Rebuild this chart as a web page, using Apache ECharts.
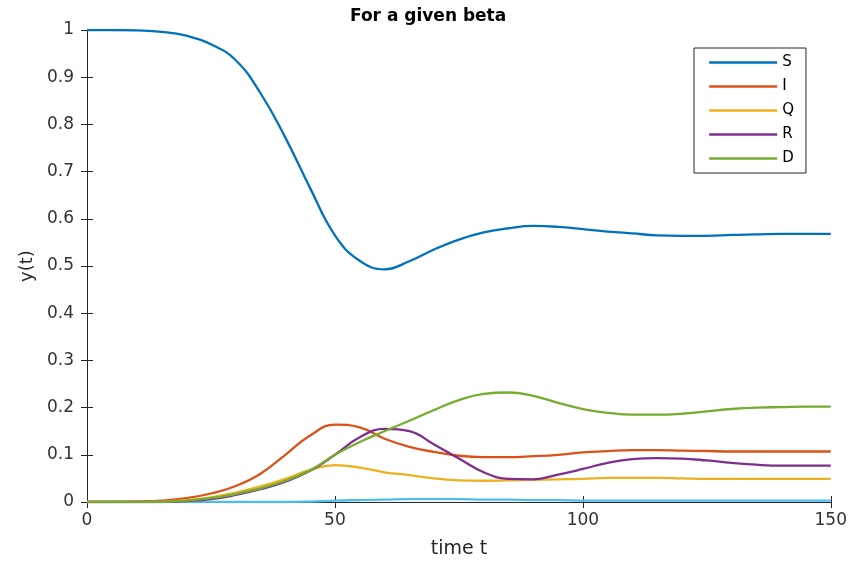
<!DOCTYPE html>
<html>
<head>
<meta charset="utf-8">
<script src="https://cdn.jsdelivr.net/npm/echarts@6/dist/echarts.min.js"></script>
<style>
  html, body { margin: 0; padding: 0; background: #fff; }
  #main { width: 850px; height: 565px; }
</style>
</head>
<body>
<div id="main"></div>
<script>
// time samples
var timeT = [0, 5, 10, 15, 20, 25, 30, 35, 40, 45, 50, 55, 60, 65, 70, 75, 80, 85, 90, 95,
             100, 105, 110, 115, 120, 125, 130, 135, 140, 145, 150];

var sVals = [1, 1, 0.999, 0.996, 0.988, 0.97, 0.936, 0.866, 0.772, 0.665, 0.565, 0.511, 0.493, 0.51, 0.535, 0.556,
             0.571, 0.58, 0.585, 0.583, 0.578, 0.573, 0.569, 0.565, 0.564, 0.564, 0.566, 0.567, 0.568, 0.568, 0.568];
var iVals = [0, 0, 0.001, 0.003, 0.008, 0.018, 0.034, 0.06, 0.1, 0.141, 0.164, 0.158, 0.134, 0.117, 0.106, 0.098,
             0.095, 0.095, 0.097, 0.1, 0.105, 0.108, 0.11, 0.11, 0.109, 0.108, 0.107, 0.107, 0.107, 0.107, 0.107];
var qVals = [0, 0, 0, 0.001, 0.004, 0.01, 0.02, 0.033, 0.049, 0.068, 0.078, 0.073, 0.063, 0.057, 0.05, 0.046,
             0.045, 0.046, 0.047, 0.048, 0.049, 0.051, 0.051, 0.051, 0.05, 0.049, 0.049, 0.049, 0.049, 0.049, 0.049];
var rVals = [0, 0, 0, 0, 0.002, 0.006, 0.015, 0.027, 0.043, 0.066, 0.1, 0.137, 0.155, 0.15, 0.122, 0.092,
             0.063, 0.049, 0.048, 0.058, 0.07, 0.083, 0.091, 0.093, 0.092, 0.088, 0.083, 0.079, 0.077, 0.077, 0.077];
var dVals = [0, 0, 0, 0, 0.003, 0.008, 0.017, 0.029, 0.045, 0.067, 0.1, 0.127, 0.15, 0.172, 0.195, 0.216,
             0.229, 0.232, 0.225, 0.21, 0.197, 0.189, 0.185, 0.185, 0.187, 0.192, 0.197, 0.2, 0.201, 0.202, 0.202];
// small extra curve near zero (not in legend)
var eVals = [0, 0, 0, 0, 0, 0, 0, 0, 0, 0.001, 0.003, 0.004, 0.005, 0.006, 0.006, 0.006,
             0.005, 0.005, 0.004, 0.004, 0.003, 0.003, 0.003, 0.003, 0.003, 0.003, 0.003, 0.003, 0.003, 0.003, 0.003];

var names = ['S', 'I', 'Q', 'R', 'D'];
var colors = ['#0072BD', '#D95319', '#EDB120', '#7E2F8E', '#77AC30', '#4DBEEE'];
var xTicks = [0, 50, 100, 150];

var chartDom = document.getElementById('main');
var myChart = echarts.init(chartDom);
var option;

var font = 'DejaVu Sans';
var axisColor = '#262626';

function pairs(vals) {
    return timeT.map(function (t, i) { return [t, vals[i]]; });
}

function mkSeries(name, vals, color) {
    return {
        name: name,
        type: 'line',
        data: pairs(vals),
        smooth: 0.45,
        symbol: 'none',
        color: color,
        lineStyle: { width: 2.3, color: color },
        animation: false
    };
}

var allVals = [sVals, iVals, qVals, rVals, dVals];
var seriesList = [mkSeries('E', eVals, colors[5])];
for (var k = 0; k < names.length; k++) {
    seriesList.push(mkSeries(names[k], allVals[k], colors[k]));
}

option = {
    backgroundColor: '#fff',
    title: {
        text: 'For a given beta',
        left: 345,
        top: 3,
        textStyle: { fontFamily: font, fontSize: 17, fontWeight: 'bold', color: '#000' }
    },
    legend: {
        data: names,
        orient: 'vertical',
        left: 694,
        top: 48,
        itemWidth: 68,
        itemHeight: 14,
        itemGap: 9,
        padding: [7, 12, 7, 14],
        borderColor: axisColor,
        borderWidth: 1,
        backgroundColor: '#fff',
        itemStyle: { opacity: 0 },
        lineStyle: { width: 2.3 },
        textStyle: { fontFamily: font, fontSize: 15, color: '#000' }
    },
    grid: { left: 87, right: 18, top: 30, bottom: 63 },
    xAxis: [
        {
            type: 'value',
            min: 0,
            max: 150,
            interval: 50,
            name: 'time t',
            nameLocation: 'middle',
            nameGap: 38,
            nameTextStyle: { fontFamily: font, fontSize: 19, color: axisColor },
            axisLine: { lineStyle: { color: axisColor } },
            axisTick: { inside: true, length: 6, lineStyle: { color: axisColor } },
            axisLabel: {
                margin: 10, fontFamily: font, fontSize: 17, color: '#333',
                formatter: function (v) { return xTicks.indexOf(v) >= 0 ? String(v) : ''; }
            },
            splitLine: { show: false }
        },
        {
            type: 'value', position: 'top', min: 0, max: 150, interval: 50,
            axisLine: { show: true, lineStyle: { color: axisColor } },
            axisTick: { inside: true, length: 6, lineStyle: { color: axisColor } },
            axisLabel: { show: false },
            splitLine: { show: false }
        }
    ],
    yAxis: [
        {
            type: 'value',
            min: 0,
            max: 1,
            interval: 0.1,
            name: 'y(t)',
            nameLocation: 'middle',
            nameGap: 50,
            nameTextStyle: { fontFamily: font, fontSize: 18, color: axisColor },
            axisLine: { show: true, lineStyle: { color: axisColor } },
            axisTick: { show: true, inside: true, length: 6, lineStyle: { color: axisColor } },
            axisLabel: {
                margin: 13, fontFamily: font, fontSize: 17, color: '#333',
                formatter: function (v) { return String(Math.round(v * 10) / 10); }
            },
            splitLine: { show: false }
        },
        {
            type: 'value', position: 'right', min: 0, max: 1, interval: 0.1,
            axisLine: { show: true, lineStyle: { color: axisColor } },
            axisTick: { show: true, inside: true, length: 6, lineStyle: { color: axisColor } },
            axisLabel: { show: false },
            splitLine: { show: false }
        }
    ],
    series: seriesList
};

option && myChart.setOption(option);
window.onresize = function () {
    myChart.resize();
};
</script>
</body>
</html>
